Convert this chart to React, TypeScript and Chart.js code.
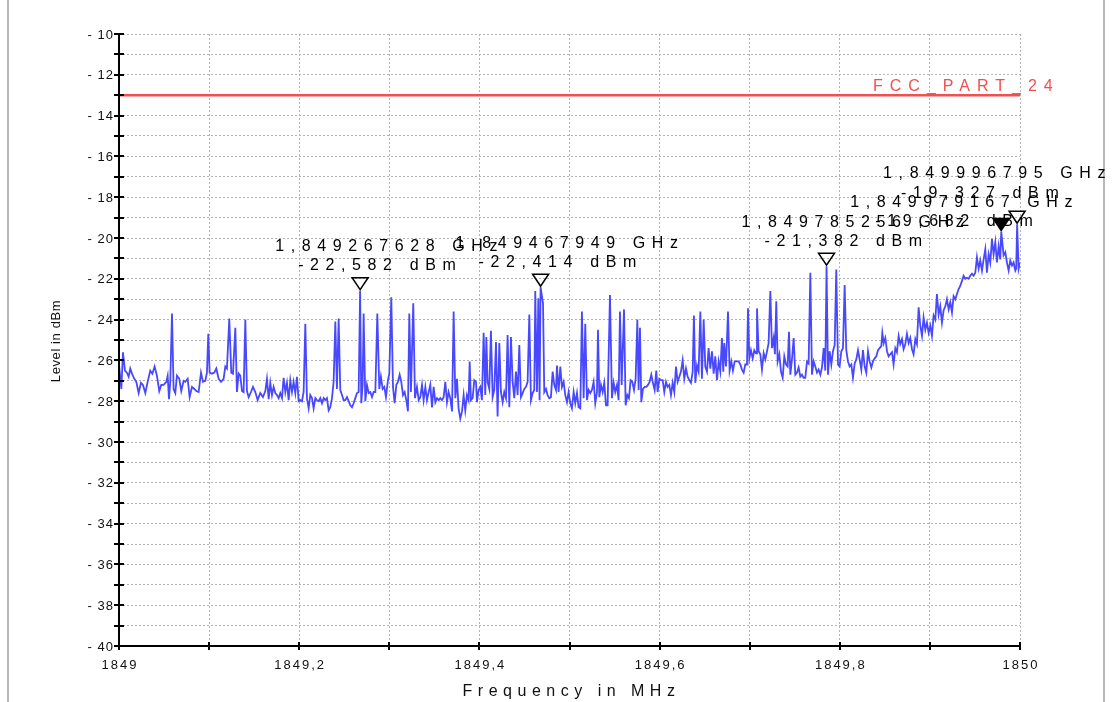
import React, { useEffect, useRef } from "react";
import { Chart, registerables } from "chart.js";

Chart.register(...registerables);

const FONT = '"Liberation Sans", Arial, Helvetica, sans-serif';

// ---- data -----------------------------------------------------------------
const startMHz = 1849;
const endMHz = 1850;

// frequency offset (MHz) from startMHz of every trace point
const offsetMHz = [
  0.0000, 0.0026, 0.0044, 0.0066, 0.0088, 0.0107, 0.0125, 0.0144, 0.0170, 0.0192,
  0.0218, 0.0244, 0.0266, 0.0292, 0.0318, 0.0347, 0.0370, 0.0395, 0.0421, 0.0447,
  0.0469, 0.0495, 0.0525, 0.0540, 0.0555, 0.0569, 0.0588, 0.0606, 0.0625, 0.0643,
  0.0669, 0.0691, 0.0717, 0.0736, 0.0762, 0.0784, 0.0810, 0.0836, 0.0858, 0.0884,
  0.0910, 0.0932, 0.0958, 0.0976, 0.0991, 0.1006, 0.1032, 0.1058, 0.1080, 0.1106,
  0.1132, 0.1161, 0.1180, 0.1198, 0.1224, 0.1246, 0.1265, 0.1291, 0.1309, 0.1328,
  0.1346, 0.1365, 0.1383, 0.1402, 0.1420, 0.1439, 0.1465, 0.1487, 0.1513, 0.1539,
  0.1568, 0.1598, 0.1624, 0.1642, 0.1661,
  0.1679, 0.1698, 0.1716, 0.1735, 0.1753, 0.1772, 0.1790, 0.1809, 0.1827, 0.1846,
  0.1864, 0.1883, 0.1901, 0.1920, 0.1938, 0.1957, 0.1975, 0.1994, 0.2012, 0.2031,
  0.2049, 0.2068, 0.2086, 0.2105, 0.2123, 0.2142, 0.2160, 0.2179, 0.2197, 0.2216,
  0.2234, 0.2253, 0.2271, 0.2290, 0.2308, 0.2327, 0.2345, 0.2364, 0.2382, 0.2401,
  0.2419, 0.2438, 0.2456, 0.2475, 0.2493, 0.2512, 0.2530, 0.2549, 0.2567, 0.2586,
  0.2604, 0.2623, 0.2641, 0.2660, 0.2676, 0.2689, 0.2704, 0.2715, 0.2734, 0.2752,
  0.2771, 0.2789, 0.2808, 0.2826, 0.2845, 0.2867, 0.2889, 0.2907, 0.2926, 0.2945,
  0.2963, 0.2985, 0.3000, 0.3022, 0.3041, 0.3059, 0.3078, 0.3096, 0.3115, 0.3133,
  0.3152, 0.3170, 0.3189, 0.3207, 0.3222, 0.3240, 0.3266, 0.3285, 0.3307, 0.3326,
  0.3344, 0.3363, 0.3381, 0.3400,
  0.3418, 0.3437, 0.3455, 0.3474, 0.3492, 0.3511, 0.3529, 0.3548, 0.3566, 0.3585,
  0.3603, 0.3622, 0.3640, 0.3658, 0.3677, 0.3696, 0.3714, 0.3733, 0.3751, 0.3769,
  0.3788, 0.3807, 0.3825, 0.3843, 0.3862, 0.3880, 0.3892, 0.3906, 0.3925, 0.3943,
  0.3962, 0.3973, 0.3991, 0.4010, 0.4028, 0.4047, 0.4065, 0.4077, 0.4091, 0.4110,
  0.4128, 0.4147, 0.4165, 0.4184, 0.4202, 0.4221, 0.4239, 0.4258, 0.4276, 0.4295,
  0.4313, 0.4332, 0.4350, 0.4369, 0.4387, 0.4406, 0.4424, 0.4443, 0.4461, 0.4480,
  0.4498, 0.4517, 0.4535, 0.4554, 0.4572, 0.4591, 0.4609, 0.4620, 0.4639, 0.4654,
  0.4668, 0.4679, 0.4706, 0.4720, 0.4739, 0.4757, 0.4776, 0.4794, 0.4813, 0.4831,
  0.4850, 0.4861, 0.4879, 0.4898, 0.4916, 0.4935, 0.4953, 0.4972, 0.4990, 0.5009,
  0.5027, 0.5046, 0.5064, 0.5083, 0.5101,
  0.5120, 0.5138, 0.5157, 0.5175, 0.5194, 0.5212, 0.5231, 0.5249, 0.5268, 0.5286,
  0.5305, 0.5316, 0.5331, 0.5349, 0.5368, 0.5386, 0.5405, 0.5423, 0.5449, 0.5471,
  0.5490, 0.5508, 0.5527, 0.5545, 0.5560, 0.5579, 0.5605, 0.5623, 0.5642, 0.5660,
  0.5678, 0.5697, 0.5716, 0.5734, 0.5753, 0.5767, 0.5782, 0.5797, 0.5815, 0.5834,
  0.5852, 0.5871, 0.5889, 0.5908, 0.5926, 0.5945, 0.5963, 0.5978, 0.5997, 0.6015,
  0.6034, 0.6052, 0.6071, 0.6089, 0.6108, 0.6126, 0.6145, 0.6163, 0.6182, 0.6200,
  0.6219, 0.6237, 0.6256, 0.6274, 0.6293, 0.6311, 0.6330, 0.6348, 0.6367, 0.6381,
  0.6396, 0.6415, 0.6433, 0.6452, 0.6470, 0.6489, 0.6507, 0.6526, 0.6544, 0.6563,
  0.6581, 0.6600, 0.6618, 0.6637, 0.6655, 0.6674, 0.6692, 0.6707, 0.6718, 0.6737,
  0.6759, 0.6777, 0.6796, 0.6814, 0.6833,
  0.6859, 0.6877, 0.6896, 0.6914, 0.6933, 0.6951, 0.6970, 0.6981, 0.6996, 0.7014,
  0.7033, 0.7051, 0.7070, 0.7081, 0.7099, 0.7118, 0.7136, 0.7155, 0.7173, 0.7192,
  0.7210, 0.7229, 0.7247, 0.7266, 0.7280, 0.7295, 0.7310, 0.7329, 0.7347, 0.7366,
  0.7384, 0.7403, 0.7421, 0.7436, 0.7451, 0.7469, 0.7488, 0.7506, 0.7525, 0.7543,
  0.7562, 0.7580, 0.7598, 0.7617, 0.7636, 0.7654, 0.7673, 0.7691, 0.7710, 0.7728,
  0.7747, 0.7765, 0.7784, 0.7802, 0.7821, 0.7839, 0.7853, 0.7869, 0.7887, 0.7906,
  0.7924, 0.7943, 0.7961, 0.7980, 0.7998, 0.8017, 0.8035, 0.8054, 0.8072, 0.8091,
  0.8109, 0.8128, 0.8146, 0.8165, 0.8183, 0.8202, 0.8220, 0.8239, 0.8257, 0.8276,
  0.8294, 0.8313, 0.8331, 0.8350, 0.8368, 0.8387, 0.8405, 0.8424, 0.8442, 0.8461,
  0.8472, 0.8487, 0.8505, 0.8524, 0.8542, 0.8560,
  0.8579, 0.8597, 0.8616, 0.8634, 0.8653, 0.8671, 0.8690, 0.8708, 0.8727, 0.8745,
  0.8764, 0.8782, 0.8801, 0.8819, 0.8838, 0.8856, 0.8875, 0.8893, 0.8912, 0.8930,
  0.8949, 0.8967, 0.8986, 0.9004, 0.9023, 0.9041, 0.9060, 0.9078, 0.9097, 0.9115,
  0.9134, 0.9152, 0.9171, 0.9189, 0.9208, 0.9226, 0.9245, 0.9263, 0.9282, 0.9300,
  0.9319, 0.9337, 0.9356, 0.9374, 0.9393, 0.9411, 0.9430, 0.9448, 0.9467, 0.9485,
  0.9504, 0.9522, 0.9541, 0.9559, 0.9578, 0.9596, 0.9615, 0.9633, 0.9652, 0.9670,
  0.9689, 0.9707, 0.9726, 0.9744, 0.9763, 0.9781, 0.9792, 0.9818, 0.9837, 0.9855,
  0.9874, 0.9892, 0.9911, 0.9929, 0.9948, 0.9958, 0.9968, 0.9985, 1.0000,
];

// measured level (dBm) of every trace point
const levelDbm = [
  -26.2, -27.4, -25.6, -26.5, -26.6, -26.8, -26.4, -26.65, -26.9, -27.05,
  -27.6, -27.1, -27.2, -27.6, -27.05, -26.5, -26.65, -26.3, -26.75, -27.5,
  -27.2, -27.2, -27.05, -26.75, -27.9, -27.05, -23.7, -27.4, -27.6, -26.75,
  -26.9, -27.5, -27.0, -27.05, -26.9, -27.8, -27.3, -27.4, -27.5, -27.55,
  -26.6, -27.05, -27.0, -26.6, -24.7, -26.6, -26.65, -26.6, -26.4, -26.9,
  -27.05, -26.9, -26.3, -26.4, -23.95, -26.6, -26.65, -24.4, -27.55, -26.65,
  -26.75, -27.5, -27.55, -24.0, -27.5, -27.8, -27.55, -27.3, -27.55, -27.95,
  -27.6, -27.8, -27.5, -26.9, -27.9,
  -27.1, -27.7, -27.3, -27.6, -27.7, -27.85, -27.6, -27.85, -26.85, -27.55,
  -27.1, -27.95, -26.97, -27.55, -27.05, -27.6, -26.8, -28.0, -27.95, -28.0,
  -27.55, -24.2, -27.85, -28.35, -27.7, -27.85, -28.35, -27.85, -27.95, -28.0,
  -27.85, -28.1, -27.85, -27.95, -27.85, -28.45, -28.3, -27.85, -27.05, -24.1,
  -27.4, -23.95, -27.45, -27.7, -27.95, -27.95, -27.8, -28.0, -28.2, -28.3,
  -28.1, -27.85, -27.6, -27.55, -22.582, -28.1, -27.2, -23.7, -28.0, -27.2,
  -27.6, -27.55, -27.8, -27.55, -27.55, -23.7, -27.4, -26.8, -27.4, -27.3,
  -27.8, -26.97, -26.65, -22.9, -27.3, -28.1, -27.2, -27.05, -26.7, -27.05,
  -27.7, -27.55, -27.95, -28.5, -23.7, -27.55, -23.2, -27.85, -27.3, -27.95,
  -27.8, -27.2, -27.95, -27.3,
  -27.95, -27.55, -27.2, -28.3, -27.3, -28.05, -27.85, -27.95, -27.85, -27.95,
  -27.8, -27.05, -28.05, -27.55, -27.85, -28.5, -23.6, -27.85, -26.9, -28.35,
  -28.85, -28.5, -27.7, -28.45, -27.7, -27.95, -26.05, -27.95, -27.85, -26.97,
  -27.05, -28.05, -27.45, -27.3, -27.95, -24.65, -27.7, -24.85, -27.05, -27.4,
  -24.55, -27.8, -27.45, -25.1, -28.75, -25.15, -27.55, -28.05, -27.55, -27.85,
  -24.75, -28.3, -24.85, -27.05, -27.85, -26.55, -27.7, -25.25, -27.8, -27.6,
  -27.4, -27.3, -27.05, -23.75, -27.95, -27.6, -27.45, -22.6, -27.55, -22.95,
  -27.95, -22.414, -23.2, -27.55, -27.4, -27.7, -27.85, -27.8, -26.55, -27.2,
  -27.45, -26.25, -27.55, -26.3, -27.3, -27.05, -27.7, -28.05, -27.55, -28.1,
  -28.35, -27.55, -28.1, -27.6, -28.3,
  -28.35, -23.6, -27.85, -24.2, -27.95, -27.45, -27.6, -27.45, -27.05, -28.1,
  -27.55, -24.5, -27.8, -27.2, -27.55, -27.1, -28.2, -28.2, -22.8, -27.85,
  -27.1, -27.55, -27.2, -27.95, -23.6, -27.2, -23.5, -28.2, -27.7, -27.85,
  -26.97, -27.05, -27.45, -26.9, -24.0, -27.45, -24.4, -28.05, -27.4, -27.3,
  -27.3, -27.2, -27.05, -26.7, -27.1, -27.45, -26.5, -27.55, -26.9, -26.97,
  -26.97, -27.55, -27.05, -27.3, -27.2, -27.7, -27.1, -27.55, -26.3, -27.05,
  -26.8, -26.55, -26.0, -26.9, -26.4, -26.8, -26.97, -27.1, -26.55, -23.8,
  -27.1, -26.25, -26.55, -23.6, -26.9, -24.0, -26.3, -26.55, -25.4, -26.4,
  -25.55, -26.65, -25.8, -26.97, -26.05, -26.55, -24.9, -26.55, -25.15, -26.3,
  -23.6, -26.5, -26.05, -26.5, -26.05,
  -26.05, -26.05, -26.2, -26.45, -26.6, -26.2, -26.2, -23.45, -25.9, -25.5,
  -25.9, -25.5, -25.65, -23.45, -25.55, -25.7, -26.45, -25.65, -25.95, -25.55,
  -25.15, -22.6, -25.4, -24.9, -25.7, -23.1, -26.05, -25.7, -26.55, -26.85,
  -25.8, -26.2, -26.3, -24.6, -26.7, -25.95, -24.9, -26.7, -26.6, -26.35,
  -26.8, -26.7, -26.85, -26.85, -26.05, -26.15, -21.7, -26.7, -26.05, -26.3,
  -26.6, -26.45, -26.7, -26.35, -25.4, -26.5, -21.382, -26.7, -25.55, -26.2,
  -25.55, -25.25, -21.55, -26.2, -26.3, -25.55, -25.4, -22.3, -25.5, -26.05,
  -26.3, -26.2, -26.85, -26.15, -25.95, -25.5, -25.95, -26.45, -25.5, -26.3,
  -26.6, -25.55, -26.05, -26.35, -26.05, -25.9, -25.8, -25.5, -25.4, -25.3,
  -24.65, -25.15, -24.9, -25.55, -25.8, -25.7,
  -25.6, -26.2, -25.4, -25.6, -24.8, -25.2, -24.95, -25.45, -25.2, -24.7,
  -25.15, -24.9, -25.45, -25.7, -24.95, -25.2, -23.4, -24.3, -24.8, -23.9,
  -24.5, -24.15, -24.65, -24.3, -24.8, -23.8, -24.0, -22.75, -23.75, -23.35,
  -24.15, -23.55, -23.35, -23.0, -23.5, -23.15, -23.65, -22.85, -23.0, -22.75,
  -22.5, -22.35, -22.1, -21.85, -22.0, -21.95, -22.0, -21.85, -21.75, -21.85,
  -21.7, -20.95, -21.5, -21.1, -21.6, -21.05, -20.55, -21.7, -20.8, -21.2,
  -20.05, -20.8, -20.2, -21.2, -20.4, -21.05, -19.682, -20.85, -20.7, -21.2,
  -21.6, -21.1, -21.35, -21.2, -21.6, -21.5, -19.327, -21.5, -21.2,
];

// limit line
const limitName = "FCC_PART_24";
const limitDbm = -13;

// peak markers
const markerGHz = [1.849267628, 1.849467949, 1.849785256, 1.849979167, 1.849996795];
const markerDbm = [-22.582, -22.414, -21.382, -19.682, -19.327];
const markerFilled = [false, false, false, true, false];

// axes
const yMin = -40;
const yMax = -10;
const yLabelValues = [-10, -12, -14, -16, -18, -20, -22, -24, -26, -28, -30, -32, -34, -36, -38, -40];
const xLabelValues = [1849, 1849.2, 1849.4, 1849.6, 1849.8, 1850];
const xTickLabels = ["1849", "1849,2", "1849,4", "1849,6", "1849,8", "1850"];
const xTitle = "Frequency in MHz";
const yTitle = "Level in dBm";

// label placement (style): offsets of the two label lines from each marker tip
const markerLabelOffsets = [
  { l1: [-85, -44], l2: [-62, -25] },
  { l1: [-85, -44], l2: [-62, -25] },
  { l1: [-85, -44], l2: [-62, -25] },
  { l1: [-151, -29], l2: [-126, -10] },
  { l1: [-134, -51], l2: [-116, -31] },
];

export default function App() {
  const ref = useRef<HTMLCanvasElement | null>(null);

  useEffect(() => {
    const canvas = ref.current;
    if (!canvas) return;

    const background = {
      id: "background",
      beforeDraw(chart: any) {
        const c = chart.ctx;
        c.save();
        c.fillStyle = "#ffffff";
        c.fillRect(0, 0, chart.width, chart.height);
        c.restore();
      },
    };

    const overlay = {
      id: "overlay",
      afterDraw(chart: any) {
        const c = chart.ctx as any;
        const { left, right, top, bottom } = chart.chartArea;
        const xs = chart.scales.x;
        const ys = chart.scales.y;
        c.save();

        // outer frame lines
        c.strokeStyle = "#b8b8b8";
        c.lineWidth = 2;
        c.beginPath();
        c.moveTo(8, 0);
        c.lineTo(8, chart.height);
        c.moveTo(1104, 0);
        c.lineTo(1104, chart.height);
        c.stroke();

        // axis lines
        c.strokeStyle = "#000";
        c.lineWidth = 2;
        c.beginPath();
        c.moveTo(left, top);
        c.lineTo(left, bottom);
        c.lineTo(right, bottom);
        c.stroke();

        // tick marks crossing the axes
        c.lineWidth = 2;
        c.beginPath();
        ys.ticks.forEach((t: any) => {
          const py = Math.round(ys.getPixelForValue(t.value));
          c.moveTo(left - 5, py);
          c.lineTo(left + 5, py);
        });
        xs.ticks.forEach((t: any) => {
          const px = Math.round(xs.getPixelForValue(t.value));
          c.moveTo(px, bottom - 4);
          c.lineTo(px, bottom + 4);
        });
        c.stroke();

        // y tick labels
        c.fillStyle = "#111";
        c.font = `13px ${FONT}`;
        c.letterSpacing = "1px";
        c.textAlign = "right";
        c.textBaseline = "middle";
        yLabelValues.forEach((v) => {
          const py = ys.getPixelForValue(v);
          c.fillText("- " + Math.abs(v), left - 5, py + 1);
        });

        // x tick labels
        c.letterSpacing = "2px";
        c.textAlign = "center";
        xLabelValues.forEach((v, i) => {
          const px = xs.getPixelForValue(v);
          c.fillText(xTickLabels[i], px + 1, bottom + 19);
        });

        // axis titles
        c.font = `16px ${FONT}`;
        c.letterSpacing = "5.5px";
        c.fillText(xTitle, (left + right) / 2 + 2, bottom + 46);

        c.save();
        c.translate(56, (top + bottom) / 2 + 1);
        c.rotate(-Math.PI / 2);
        c.font = `13px ${FONT}`;
        c.letterSpacing = "0.6px";
        c.textAlign = "center";
        c.fillText(yTitle, 0, 0);
        c.restore();

        // limit line label
        c.fillStyle = "#f05050";
        c.font = `16px ${FONT}`;
        c.letterSpacing = "7px";
        c.textAlign = "left";
        c.fillText(limitName, right - 147, ys.getPixelForValue(limitDbm) - 9);

        // markers
        c.fillStyle = "#000";
        c.strokeStyle = "#000";
        c.lineWidth = 1.5;
        markerGHz.forEach((g, i) => {
          const px = xs.getPixelForValue(g * 1000);
          const py = ys.getPixelForValue(markerDbm[i]);
          c.beginPath();
          c.moveTo(px, py - 1);
          c.lineTo(px - 8, py - 13);
          c.lineTo(px + 8, py - 13);
          c.closePath();
          if (markerFilled[i]) c.fill();
          c.stroke();
        });

        c.font = `16px ${FONT}`;
        c.letterSpacing = "6.6px";
        c.textAlign = "left";
        c.textBaseline = "middle";
        c.fillStyle = "#000";
        markerGHz.forEach((g, i) => {
          const px = xs.getPixelForValue(g * 1000);
          const py = ys.getPixelForValue(markerDbm[i]);
          const off = markerLabelOffsets[i];
          const line1 = g.toFixed(9).replace(".", ",") + " GHz";
          const line2 = markerDbm[i].toFixed(3).replace(".", ",") + " dBm";
          c.fillText(line1, px + off.l1[0], py + off.l1[1]);
          c.fillText(line2, px + off.l2[0], py + off.l2[1]);
        });

        c.restore();
      },
    };

    const n = Math.min(offsetMHz.length, levelDbm.length);
    const trace = [];
    for (let i = 0; i < n; i++) trace.push({ x: startMHz + offsetMHz[i], y: levelDbm[i] });

    const gridStyle = { color: "#b4b4b4", lineWidth: 1, drawTicks: false };

    const chart = new Chart(canvas, {
      type: "line",
      data: {
        datasets: [
          {
            label: "Trace",
            data: trace,
            borderColor: "#4848ff",
            borderWidth: 1.8,
            pointRadius: 0,
            tension: 0,
          },
          {
            label: limitName,
            data: [
              { x: startMHz, y: limitDbm },
              { x: endMHz, y: limitDbm },
            ],
            borderColor: "#f05050",
            borderWidth: 2.5,
            pointRadius: 0,
          },
        ],
      },
      options: {
        animation: false,
        responsive: false,
        maintainAspectRatio: false,
        events: [],
        layout: { padding: { left: 0, top: 34, right: 95, bottom: 0 } },
        plugins: {
          legend: { display: false },
          tooltip: { enabled: false },
          title: { display: false },
        },
        scales: {
          x: {
            type: "linear",
            min: startMHz,
            max: endMHz,
            ticks: { display: false, stepSize: 0.1 },
            grid: gridStyle,
            border: { display: false, dash: [2, 2] },
            afterFit(scale: any) {
              scale.height = 56;
            },
          },
          y: {
            type: "linear",
            min: yMin,
            max: yMax,
            ticks: { display: false, stepSize: 1 },
            grid: gridStyle,
            border: { display: false, dash: [2, 2] },
            afterFit(scale: any) {
              scale.width = 119;
            },
          },
        },
      },
      plugins: [background, overlay],
    } as any);

    return () => chart.destroy();
  }, []);

  return (
    <div style={{ position: "absolute", left: 0, top: 0, width: 1115, height: 702, background: "#fff" }}>
      <canvas ref={ref} width={1115} height={702} style={{ display: "block" }} />
    </div>
  );
}
